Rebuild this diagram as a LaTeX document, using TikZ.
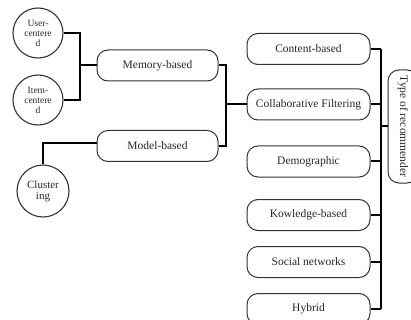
\documentclass[tikz,border=0pt]{standalone}
\usepackage{fontspec}
\setmainfont{Liberation Serif}
\begin{document}
\begin{tikzpicture}[x=1pt,y=-1pt,
  rbox/.style={draw=black!80, line width=1pt, rounded corners=11pt, minimum width=123pt, minimum height=31pt, inner sep=0pt, font=\fontsize{11.5}{13}\selectfont, text=black!85},
  cnode/.style={draw=black!80, line width=1.1pt, circle, minimum size=50pt, inner sep=0pt, align=center, text=black!85},
  conn/.style={line width=2pt, black}]
\clip (0,0) rectangle (411,320);
% right column
\node[rbox] (content) at (308.5,49) {Content-based};
\node[rbox] (collab) at (308.5,104.5) {Collaborative Filtering};
\node[rbox] (demo) at (308.5,161.5) {Demographic};
\node[rbox] (know) at (308.5,215) {Kowledge-based};
\node[rbox] (social) at (308.5,262) {Social networks};
\node[rbox] (hybrid) at (308.5,309) {Hybrid};
\node[rbox, rotate=-90, minimum width=113pt, minimum height=30pt] (type) at (403,126.5) {Type of recommender};
% middle
\node[rbox, minimum width=121pt] (memory) at (157.5,65.5) {Memory-based};
\node[rbox, minimum width=121pt] (model) at (157.5,146) {Model-based};
% circles
\node[cnode, font=\fontsize{9.5}{10}\selectfont] (user) at (38,33) {User-\\centere\\d};
\node[cnode, font=\fontsize{9.5}{10}\selectfont] (item) at (38,100) {Item-\\centere\\d};
\node[cnode, minimum size=52pt, font=\fontsize{11}{11}\selectfont] (clu) at (43,191) {Cluster\\ing};
% bus
\coordinate (bus) at (381,0);
\coordinate (mbus) at (226,0);
\coordinate (lbus) at (80,0);
\foreach \n in {content,collab,demo,know,social,hybrid}{
  \draw[conn] (\n.east) -- (\n.east -| bus);
}
\draw[conn] (content.east -| bus) -- (hybrid.east -| bus);
\draw[conn] (type.south -| bus) -- (type.south);
% memory/model to collab
\draw[conn] (memory.east) -| (mbus |- model.east) -- (model.east);
\draw[conn] (mbus |- collab.west) -- (collab.west);
% circles to memory
\draw[conn] (user.east) -| (lbus |- item.east) -- (item.east);
\draw[conn] (lbus |- memory.west) -- (memory.west);
% clustering to model
\draw[conn] (clu.north) |- ([yshift=3pt]model.west);
\end{tikzpicture}
\end{document}
